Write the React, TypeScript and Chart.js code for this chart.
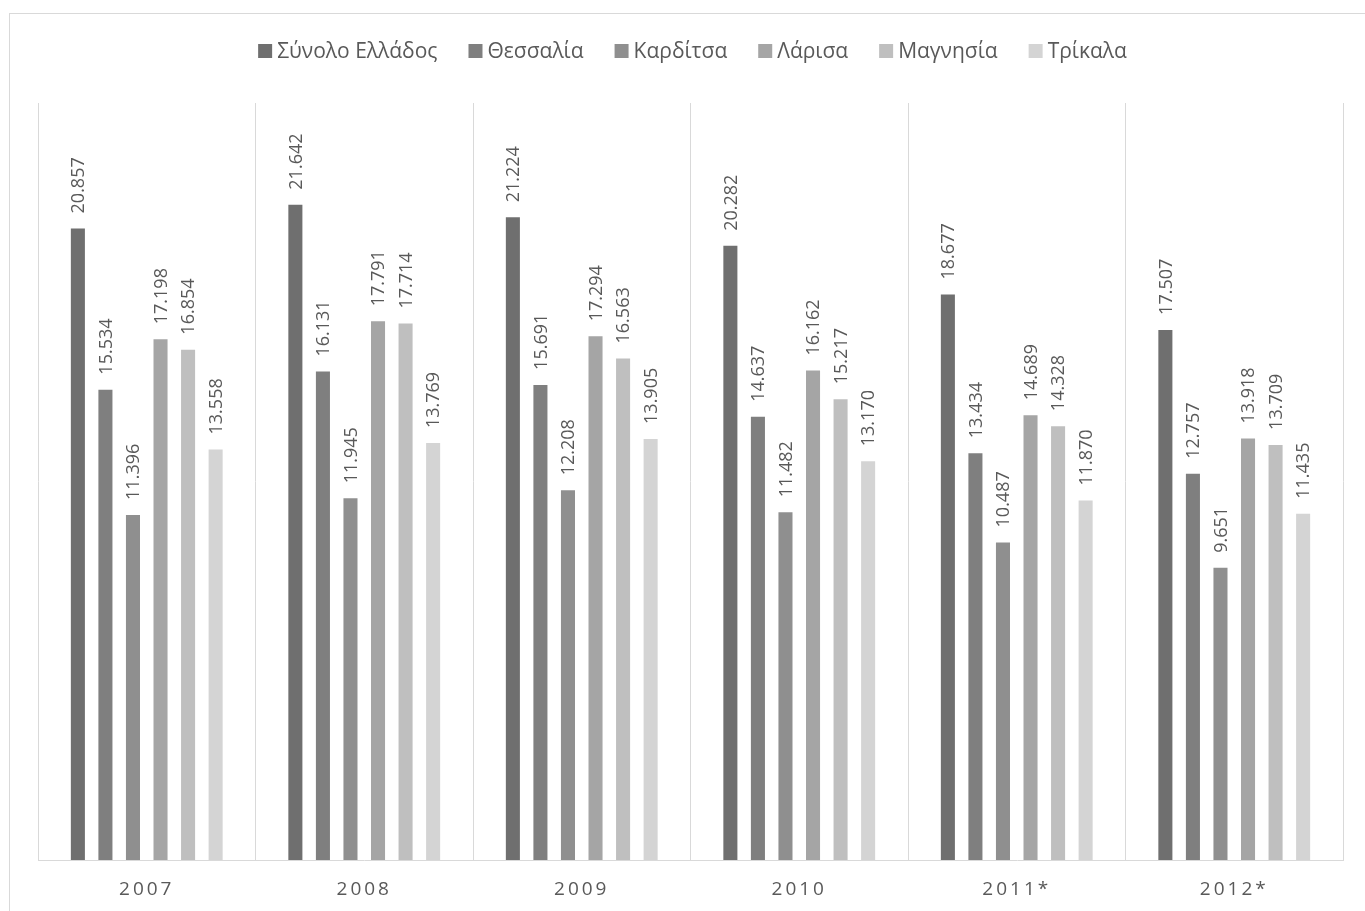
import React, { useEffect, useRef } from "react";
import { Chart, registerables } from "chart.js";

Chart.register(...registerables);

const categories = ["2007", "2008", "2009", "2010", "2011*", "2012*"];
const seriesNames = ["Σύνολο Ελλάδος", "Θεσσαλία", "Καρδίτσα", "Λάρισα", "Μαγνησία", "Τρίκαλα"];

const greece = [20857, 21642, 21224, 20282, 18677, 17507];
const thessaly = [15534, 16131, 15691, 14637, 13434, 12757];
const karditsa = [11396, 11945, 12208, 11482, 10487, 9651];
const larisa = [17198, 17791, 17294, 16162, 14689, 13918];
const magnesia = [16854, 17714, 16563, 15217, 14328, 13709];
const trikala = [13558, 13769, 13905, 13170, 11870, 11435];

const seriesValues = [greece, thessaly, karditsa, larisa, magnesia, trikala];
const seriesColors = ["#6f6f6f", "#7f7f7f", "#8f8f8f", "#a5a5a5", "#bfbfbf", "#d4d4d4"];

const yMax = 25000;
const FONT = '"Open Sans", "Noto Sans", sans-serif';
const TEXT_COLOR = "#595959";
const GRID_COLOR = "#d9d9d9";

function fmt(v: number): string {
  const s = String(v);
  return s.length > 3 ? s.slice(0, -3) + "." + s.slice(-3) : s;
}

const letterSpacingPlugin = {
  id: "letterSpacing",
  beforeDraw(chart: any) {
    (chart.ctx as any).letterSpacing = "3px";
  },
  beforeDatasetsDraw(chart: any) {
    (chart.ctx as any).letterSpacing = "0px";
  },
};

const dataLabelPlugin = {
  id: "dataLabels",
  afterDatasetsDraw(chart: any) {
    const ctx = chart.ctx as CanvasRenderingContext2D;
    ctx.save();
    (ctx as any).letterSpacing = "0px";
    ctx.font = `18px ${FONT}`;
    ctx.fillStyle = TEXT_COLOR;
    ctx.textAlign = "left";
    ctx.textBaseline = "middle";
    chart.data.datasets.forEach((ds: any, i: number) => {
      const meta = chart.getDatasetMeta(i);
      meta.data.forEach((el: any, j: number) => {
        const { x, y } = el.getProps(["x", "y"], true);
        ctx.save();
        ctx.translate(x + 1, y - 15);
        ctx.rotate(-Math.PI / 2);
        ctx.fillText(fmt(ds.data[j]), 0, 0);
        ctx.restore();
      });
    });
    ctx.restore();
  },
};

const legendPlugin = {
  id: "customLegend",
  afterDraw(chart: any) {
    const ctx = chart.ctx as CanvasRenderingContext2D;
    ctx.save();
    (ctx as any).letterSpacing = "0px";
    ctx.font = `21px ${FONT}`;
    ctx.textBaseline = "middle";
    ctx.textAlign = "left";
    const box = 14;
    const gapText = 5;
    const gapItem = 31;
    const items = chart.data.datasets.map((ds: any) => ({
      label: ds.label as string,
      color: ds.backgroundColor as string,
      w: ctx.measureText(ds.label).width,
    }));
    const total =
      items.reduce((a: number, it: any) => a + box + gapText + it.w, 0) + gapItem * (items.length - 1);
    let x = chart.width / 2 - total / 2;
    const yc = 37;
    items.forEach((it: any) => {
      ctx.fillStyle = it.color;
      ctx.fillRect(x, yc - box / 2, box, box);
      ctx.fillStyle = TEXT_COLOR;
      ctx.fillText(it.label, x + box + gapText, yc + 1);
      x += box + gapText + it.w + gapItem;
    });
    ctx.restore();
  },
};

export default function App() {
  const canvasRef = useRef<HTMLCanvasElement | null>(null);

  useEffect(() => {
    if (!canvasRef.current) return;
    const chart = new Chart(canvasRef.current, {
      type: "bar",
      data: {
        labels: categories,
        datasets: seriesNames.map((name, i) => ({
          label: name,
          data: seriesValues[i],
          backgroundColor: seriesColors[i],
          borderWidth: 0,
          categoryPercentage: 0.76,
          barPercentage: 0.51,
        })),
      },
      options: {
        responsive: false,
        animation: false,
        layout: { padding: { top: 89, left: 28, right: 32, bottom: 0 } },
        plugins: {
          legend: { display: false },
          tooltip: { enabled: false },
          title: { display: false },
        },
        scales: {
          x: {
            offset: true,
            grid: { display: true, offset: true, color: GRID_COLOR, lineWidth: 1, drawTicks: false },
            border: { display: true, color: GRID_COLOR, width: 1 },
            ticks: {
              color: TEXT_COLOR,
              font: { family: FONT, size: 19 },
              padding: 18,
              maxRotation: 0,
              autoSkip: false,
            },
            afterFit: (scale: any) => {
              scale.height = 65;
            },
          },
          y: {
            display: false,
            min: 0,
            max: yMax,
          },
        },
      },
      plugins: [letterSpacingPlugin, dataLabelPlugin, legendPlugin],
    });
    return () => chart.destroy();
  }, []);

  return (
    <div
      style={{
        position: "fixed",
        left: 9,
        top: 13,
        width: 1367,
        height: 913,
        border: `1px solid ${GRID_COLOR}`,
        boxSizing: "border-box",
        background: "#fff",
      }}
    >
      <canvas ref={canvasRef} width={1365} height={911} style={{ display: "block", width: 1365, height: 911 }} />
    </div>
  );
}
